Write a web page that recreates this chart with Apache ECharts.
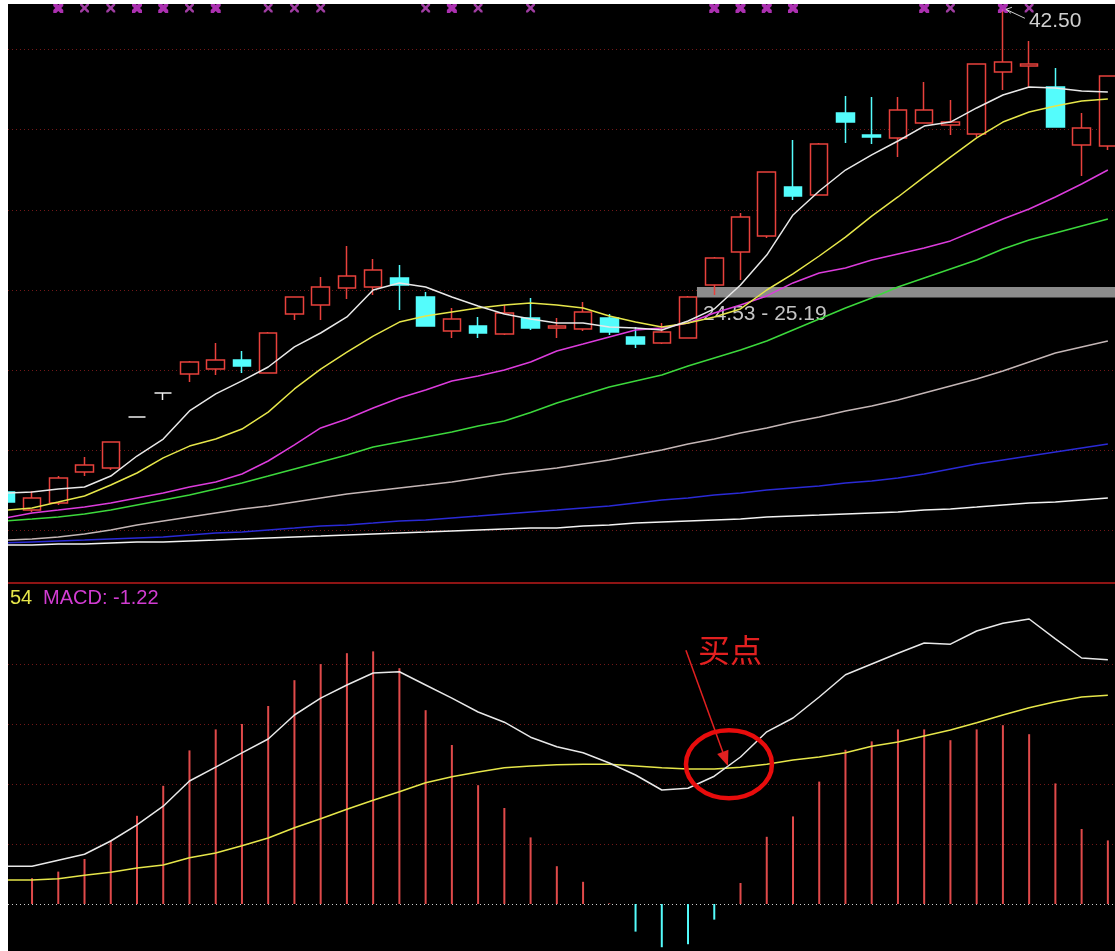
<!DOCTYPE html>
<html>
<head>
<meta charset="utf-8">
<script src="https://cdn.jsdelivr.net/npm/echarts@6.0.0/dist/echarts.min.js"></script>
<style>
  html, body { margin: 0; padding: 0; background: #fff; }
  #chart { position: absolute; left: 8px; top: 4px; width: 1107px; height: 947px; }
</style>
</head>
<body>
<div id="chart"></div>
<script>
// 日K线序号
const dayIdx = [0,1,2,3,4,5,6,7,8,9,10,11,12,13,14,15,16,17,18,19,20,
  21,22,23,24,25,26,27,28,29,30,31,32,33,34,35,36,37,38,39,40,41,42];

// K线 开 收 低 高
const open  = [12.41,11.28,11.72,13.65,13.90,17.08,18.58,19.76,20.07,20.64,19.83,23.50,24.06,25.12,25.19,25.75,24.56,22.44,22.76,22.26,23.25,
  22.63,22.57,23.25,22.07,21.70,22.01,25.31,27.37,28.37,31.42,30.92,36.03,34.66,34.48,35.41,35.29,34.73,38.59,38.97,37.66,34.04,33.98];
const close = [11.78,12.03,13.28,14.09,15.52,17.08,18.58,20.51,20.64,20.26,22.32,24.56,25.19,25.87,26.25,25.31,22.76,23.19,22.32,23.57,22.63,
  22.76,23.63,22.38,21.63,22.38,24.56,26.99,29.55,32.36,30.86,34.10,35.47,34.54,36.22,36.22,35.47,39.09,39.21,39.09,35.16,35.10,38.34];
const low   = [11.78,11.16,11.60,13.40,13.78,17.08,18.14,19.26,19.70,19.83,19.83,23.13,23.13,24.44,24.69,23.75,22.76,22.01,22.01,22.19,22.51,
  22.01,22.44,22.19,21.38,21.63,22.01,24.69,25.62,28.24,30.61,30.92,34.16,34.10,33.29,35.41,34.66,34.54,37.47,37.59,35.16,32.11,33.73];
const high  = [12.41,12.47,13.40,14.59,15.52,17.08,18.58,20.57,21.70,21.20,22.38,24.56,25.81,27.74,26.93,26.56,24.88,23.88,23.32,24.06,24.50,
  23.25,24.25,23.50,22.69,22.94,24.63,27.06,29.80,32.36,34.35,34.16,37.10,37.03,37.03,37.97,36.85,39.09,42.50,40.52,38.84,36.03,38.34];
const whiteDays = [5, 6]; // 白色十字/一字线

// 均线
const ma5   = [12.34,12.41,12.59,12.72,13.40,14.65,15.71,17.46,18.52,19.33,20.20,21.45,22.32,23.32,25.00,25.44,25.19,24.56,24.00,23.50,23.19,
  22.94,22.94,22.69,22.63,22.51,23.07,23.82,25.31,27.18,29.68,31.17,32.48,33.42,34.29,35.22,35.47,36.35,37.16,37.66,37.59,37.41,37.34];
const ma10  = [11.28,11.41,11.78,12.16,12.84,13.59,14.53,15.27,15.71,16.33,17.39,18.83,20.07,21.13,22.13,23.00,23.38,23.63,23.88,24.06,24.19,
  24.06,23.88,23.38,23.00,22.69,22.94,23.32,23.82,25.00,26.00,27.12,28.30,29.61,30.80,32.05,33.29,34.48,35.47,36.10,36.47,36.78,36.91];
const ma20  = [10.79,11.10,11.28,11.47,11.72,12.03,12.34,12.72,13.03,13.53,14.34,15.34,16.40,16.96,17.64,18.27,18.77,19.33,19.64,20.01,20.51,
  21.20,21.63,22.07,22.51,22.63,22.94,23.57,24.06,24.63,25.44,26.06,26.37,26.87,27.25,27.62,28.06,28.74,29.43,30.05,30.80,31.61,32.48];
const ma30  = [10.60,10.72,10.85,11.04,11.28,11.60,11.91,12.22,12.59,12.97,13.40,13.84,14.28,14.71,15.21,15.52,15.84,16.15,16.52,16.83,17.36,
  17.96,18.45,18.95,19.33,19.70,20.26,20.76,21.26,21.82,22.51,23.19,23.88,24.50,25.19,25.75,26.31,26.87,27.56,28.12,28.55,28.99,29.43];
const ma60  = [9.41,9.48,9.60,9.79,10.04,10.35,10.60,10.85,11.10,11.35,11.53,11.78,12.03,12.28,12.47,12.66,12.84,13.03,13.28,13.53,13.72,
  13.90,14.15,14.40,14.71,15.03,15.40,15.71,16.09,16.40,16.77,17.08,17.46,17.77,18.14,18.58,19.02,19.45,19.95,20.51,21.07,21.45,21.82];
const ma120 = [9.23,9.29,9.35,9.41,9.48,9.54,9.60,9.73,9.85,9.91,10.04,10.16,10.29,10.35,10.47,10.60,10.66,10.79,10.91,11.04,11.16,
  11.28,11.41,11.53,11.72,11.91,12.03,12.22,12.34,12.53,12.66,12.78,12.97,13.09,13.28,13.53,13.84,14.15,14.40,14.65,14.90,15.15,15.40];
const ma250 = [9.10,9.10,9.17,9.17,9.23,9.29,9.29,9.35,9.41,9.48,9.54,9.60,9.66,9.73,9.79,9.85,9.91,9.98,10.04,10.10,10.16,
  10.16,10.29,10.35,10.47,10.54,10.60,10.66,10.72,10.85,10.91,10.97,11.04,11.10,11.16,11.28,11.35,11.47,11.60,11.72,11.78,11.91,12.03];

// 顶部信号
const boldMarks = [2, 5, 6, 8, 17, 27, 28, 29, 30, 35, 38];
const thinMarks = [3, 4, 7, 10, 11, 12, 16, 18, 20, 36, 39];
const markLevel = 42.58;

// 缺口区间
const gapLow = 24.53, gapHigh = 25.19, gapFrom = 26.34;
const priceLevels = [10, 15, 20, 25, 30, 35, 40];

// MACD
const dif  = [0.63,0.63,0.73,0.83,1.05,1.32,1.63,2.05,2.28,2.52,2.75,3.15,3.43,3.65,3.85,3.87,3.65,3.43,3.20,3.03,2.78,
  2.62,2.52,2.35,2.15,1.90,1.93,2.13,2.45,2.87,3.10,3.45,3.82,4.00,4.18,4.35,4.33,4.55,4.68,4.75,4.42,4.10,4.07];
const dea  = [0.40,0.40,0.42,0.48,0.53,0.60,0.65,0.77,0.85,0.97,1.10,1.27,1.42,1.58,1.73,1.87,2.02,2.12,2.20,2.27,2.30,
  2.32,2.33,2.33,2.30,2.27,2.25,2.25,2.28,2.33,2.40,2.45,2.52,2.63,2.70,2.80,2.90,3.02,3.15,3.27,3.37,3.45,3.48];
const macd = [0.38,0.43,0.54,0.75,1.06,1.47,1.97,2.56,2.91,3.00,3.30,3.73,4.00,4.18,4.21,3.93,3.23,2.65,1.98,1.60,1.11,
  0.63,0.37,0.01,-0.46,-0.72,-0.67,-0.26,0.35,1.12,1.46,2.04,2.57,2.71,2.91,2.91,2.73,2.91,2.98,2.83,2.01,1.25,1.06];
const macdLevels = [1, 2, 3, 4];

// 买点标注 (数据坐标)
const buyCircle = [27.56, 2.33];
const buyArrowFrom = [25.92, 4.23];
const buyArrowTo = [27.52, 2.30];
const buyTextAt = [26.38, 4.50];

const X_MIN = 0.084, X_MAX = 42.272;
const RED = '#e8413c', CYAN = '#54fcfc';

const candleData = dayIdx.map((d, i) => {
  const item = { value: [d, open[i], close[i], low[i], high[i]] };
  if (whiteDays.indexOf(d) >= 0) {
    item.itemStyle = { color: '#f0f0f0', borderColor: '#f0f0f0', borderColor0: '#f0f0f0', borderColorDoji: '#f0f0f0' };
  }
  return item;
});

function pairs(arr) {
  return arr.map((v, i) => [dayIdx[i], v]);
}

function maLine(name, arr, color) {
  return {
    name: name, type: 'line', xAxisIndex: 0, yAxisIndex: 0, z: 4,
    data: pairs(arr), symbol: 'none', silent: true,
    lineStyle: { color: color, width: 1.5 }
  };
}

const hidden = {
  axisLine: { show: false }, axisTick: { show: false },
  axisLabel: { show: false }, splitLine: { show: false }
};

const xSymbolBold = 'path://M0,0H3L5,2L7,0H10V3L8,5L10,7V10H7L5,8L3,10H0V7L2,5L0,3Z';
const xSymbolThin = 'path://M0,0H2L5,3L8,0H10V2L7,5L10,8V10H8L5,7L2,10H0V8L3,5L0,2Z';

const ma250Series = maLine('MA250', ma250, '#f2f2f2');
ma250Series.markLine = {
  silent: true, z: 1, symbol: ['none', 'none'], label: { show: false },
  lineStyle: { color: '#721818', type: [1, 3], width: 1 },
  data: priceLevels.map(v => ({ yAxis: v }))
};
ma250Series.markArea = {
  silent: true, z: 2,
  itemStyle: { color: '#8c8c8c', opacity: 1 },
  label: {
    show: true, position: [6, 17], align: 'left', verticalAlign: 'top',
    color: '#c4c4c4', fontSize: 21, fontFamily: '"Liberation Sans", Arial, sans-serif'
  },
  data: [[
    { xAxis: gapFrom, yAxis: gapLow, name: gapLow.toFixed(2) + ' - ' + gapHigh.toFixed(2) },
    { xAxis: X_MAX, yAxis: gapHigh }
  ]]
};

const deaSeries = {
  name: 'DEA', type: 'line', xAxisIndex: 1, yAxisIndex: 1, z: 4,
  data: pairs(dea), symbol: 'none', silent: true,
  lineStyle: { color: '#e6e64a', width: 1.5 },
  markLine: {
    silent: true, z: 1, symbol: ['none', 'none'], label: { show: false },
    data: macdLevels.map(v => ({ yAxis: v, lineStyle: { color: '#721818', type: [1, 3], width: 1 } }))
      .concat([{ yAxis: 0, lineStyle: { color: '#d0d0d0', type: [1, 3], width: 1 } }])
  }
};

const option = {
  backgroundColor: '#000',
  animation: false,
  textStyle: { fontFamily: '"Liberation Sans", Arial, sans-serif' },
  grid: [
    { left: 0, right: 0, top: 0, height: 579 },
    { left: 0, right: 0, top: 580, bottom: 0 }
  ],
  xAxis: [
    {
      type: 'value', gridIndex: 0, min: X_MIN, max: X_MAX,
      axisLine: { show: true, onZero: false, lineStyle: { color: '#8e1414', width: 2 } },
      axisTick: { show: false }, axisLabel: { show: false }, splitLine: { show: false }
    },
    Object.assign({ type: 'value', gridIndex: 1, min: X_MIN, max: X_MAX }, hidden)
  ],
  yAxis: [
    Object.assign({ type: 'value', gridIndex: 0, min: 6.733, max: 42.831 }, hidden),
    Object.assign({ type: 'value', gridIndex: 1, min: -0.783, max: 5.333 }, hidden)
  ],
  series: [
    ma250Series,
    {
      name: 'K', type: 'candlestick', xAxisIndex: 0, yAxisIndex: 0, z: 3,
      barWidth: 18, clip: true, silent: true,
      itemStyle: {
        color: '#000', color0: CYAN, borderColor: RED, borderColor0: CYAN, borderWidth: 1.5
      },
      data: candleData
    },
    maLine('MA120', ma120, '#2a2ad6'),
    maLine('MA60', ma60, '#c4b6b6'),
    maLine('MA30', ma30, '#3cd83c'),
    maLine('MA20', ma20, '#dc3cdc'),
    maLine('MA10', ma10, '#e6e64a'),
    maLine('MA5', ma5, '#e8e8e8'),
    {
      type: 'scatter', xAxisIndex: 0, yAxisIndex: 0, z: 5, silent: true,
      symbol: xSymbolBold, symbolSize: [10, 10],
      itemStyle: { color: '#d63cdc' },
      data: boldMarks.map(d => [d, markLevel])
    },
    {
      type: 'scatter', xAxisIndex: 0, yAxisIndex: 0, z: 5, silent: true,
      symbol: xSymbolThin, symbolSize: [9, 9],
      itemStyle: { color: '#c84ccc' },
      data: thinMarks.map(d => [d, markLevel])
    },
    {
      name: 'MACD', type: 'bar', xAxisIndex: 1, yAxisIndex: 1, z: 3, silent: true,
      barWidth: 2,
      data: macd.map((v, i) => ({
        value: [dayIdx[i], v],
        itemStyle: { color: v >= 0 ? '#e04a4a' : CYAN }
      }))
    },
    deaSeries,
    {
      name: 'DIF', type: 'line', xAxisIndex: 1, yAxisIndex: 1, z: 4,
      data: pairs(dif), symbol: 'none', silent: true,
      lineStyle: { color: '#e8e8e8', width: 1.5 }
    }
  ]
};

const chart = echarts.init(document.getElementById('chart'));
chart.setOption(option);

// 标注
const hi = chart.convertToPixel({ gridIndex: 0 }, [38, high[38]]);
const circ = chart.convertToPixel({ gridIndex: 1 }, buyCircle);
const aFrom = chart.convertToPixel({ gridIndex: 1 }, buyArrowFrom);
const aTo = chart.convertToPixel({ gridIndex: 1 }, buyArrowTo);
const tAt = chart.convertToPixel({ gridIndex: 1 }, buyTextAt);

const dx = aTo[0] - aFrom[0], dy = aTo[1] - aFrom[1];
const len = Math.sqrt(dx * dx + dy * dy);
const ux = dx / len, uy = dy / len;
const bx = aTo[0] - ux * 15, by = aTo[1] - uy * 15;

chart.setOption({
  graphic: [
    {
      type: 'text', left: 2, top: 584, z: 10, silent: true,
      style: { text: '54', fill: '#e6e64a', font: '20px "Liberation Sans", Arial, sans-serif' }
    },
    {
      type: 'text', left: 35, top: 584, z: 10, silent: true,
      style: { text: 'MACD: -1.22', fill: '#d23cd2', font: '20px "Liberation Sans", Arial, sans-serif' }
    },
    {
      type: 'polyline', z: 10, silent: true,
      shape: { points: [[hi[0] + 9, hi[1] - 2], [hi[0] + 3, hi[1]], [hi[0] + 8, hi[1] + 4]] },
      style: { stroke: '#d0d0d0', lineWidth: 1, fill: 'none' }
    },
    {
      type: 'line', z: 10, silent: true,
      shape: { x1: hi[0] + 3, y1: hi[1], x2: hi[0] + 22, y2: hi[1] + 9 },
      style: { stroke: '#d0d0d0', lineWidth: 1 }
    },
    {
      type: 'text', x: hi[0] + 26, y: hi[1] + 1, z: 10, silent: true,
      style: {
        text: high[38].toFixed(2), fill: '#d0d0d0', align: 'left', verticalAlign: 'top',
        font: '21px "Liberation Sans", Arial, sans-serif'
      }
    },
    {
      type: 'text', x: tAt[0], y: tAt[1], z: 10, silent: true,
      style: {
        text: '买点', fill: '#e22020', align: 'left', verticalAlign: 'top',
        font: '32px "Noto Sans CJK SC", sans-serif'
      }
    },
    {
      type: 'line', z: 10, silent: true,
      shape: { x1: aFrom[0], y1: aFrom[1], x2: bx, y2: by },
      style: { stroke: '#e22020', lineWidth: 1.5 }
    },
    {
      type: 'polygon', z: 10, silent: true,
      shape: { points: [[aTo[0], aTo[1]], [bx - uy * 6, by + ux * 6], [bx + uy * 6, by - ux * 6]] },
      style: { fill: '#e22020' }
    },
    {
      type: 'ellipse', z: 10, silent: true,
      shape: { cx: circ[0], cy: circ[1], rx: 43, ry: 34 },
      style: { fill: 'none', stroke: '#e80c0c', lineWidth: 4.5 }
    }
  ]
});
</script>
</body>
</html>
